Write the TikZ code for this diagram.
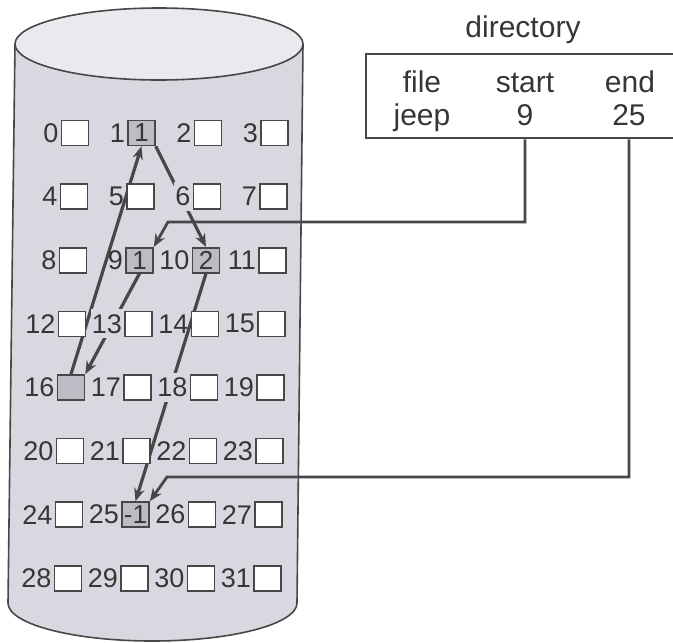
\documentclass[tikz,border=0pt]{standalone}
\usepackage{fontspec}
\setmainfont{Liberation Sans}
\usetikzlibrary{arrows.meta, positioning, calc, backgrounds}
\definecolor{cdisk}{HTML}{D9D8E0}
\definecolor{ctop}{HTML}{E9E9EE}
\definecolor{cused}{HTML}{BDBCC4}
\definecolor{cline}{HTML}{474747}
\definecolor{ctext}{HTML}{363636}

\begin{document}
\begin{tikzpicture}[x=1pt, y=-1pt,
  blk/.style={draw=cline, fill=white, line width=1.6pt, minimum width=27pt, minimum height=25pt, inner sep=0pt},
  used/.style={blk, fill=cused},
  val/.style={text=ctext, inner sep=0pt, font=\fontsize{26}{28}\selectfont},
  num/.style={text=ctext, inner sep=1pt, font=\fontsize{27}{29}\selectfont},
  gap/.style={fill=cdisk, inner ysep=5pt},
  dirtxt/.style={text=ctext, font=\fontsize{30}{32}\selectfont, anchor=base},
  link/.style={draw=cline, line width=3.2pt, -{Stealth[length=13pt, width=10.5pt]}},
  ptr/.style={link, line width=2.8pt}]
  \useasboundingbox (0,0) rectangle (673,643);

  \begin{scope}[on background layer]
    \filldraw[fill=cdisk, draw=cline, line width=1.6pt] (15,44) -- (8,603) arc[start angle=180, end angle=0, x radius=144.5, y radius=38] -- (303,44);
    \filldraw[fill=ctop, draw=cline, line width=1.6pt] (159,44) ellipse[x radius=144, y radius=36];
  \end{scope}

  \foreach \r in {0,...,7}{
    \foreach \c in {0,...,3}{
      \pgfmathtruncatemacro{\n}{4*\r+\c}
      \pgfmathtruncatemacro{\isused}{(\n==1)+(\n==9)+(\n==10)+(\n==16)+(\n==25)}
      \pgfmathtruncatemacro{\iscut}{(\n==6)+(\n==13)+(\n==18)}
      \ifnum\isused=1 \tikzset{cell/.style={used}} \else \tikzset{cell/.style={blk}} \fi
      \ifnum\iscut=1 \tikzset{lbl/.style={num, gap}} \else \tikzset{lbl/.style={num}} \fi
      \node[cell] (b\n) at ({75-\r+66.5*\c}, {133+63.6*\r}) {};
      \node[lbl, anchor=east] (l\n) at ([xshift=-1pt]b\n.west) {\n};
    }
  }
  \foreach \n/\v in {1/1, 9/1, 10/2, 25/-1}
    \node[val] (v\n) at (b\n) {\v};

  \node[dirtxt] (title) at (523,37) {directory};
  \begin{scope}
    \clip (0,0) rectangle (673,643);
    \node[draw=cline, line width=2.4pt, anchor=north west, minimum width=340pt, minimum height=84pt, inner sep=0pt] (dir) at (365,53) {};
  \end{scope}
  \node[dirtxt] (file) at (422,92) {file};
  \node[dirtxt] (jeep) at (422,125) {jeep};
  \node[dirtxt] (start) at (525,92) {start};
  \node[dirtxt] (nine) at (525,125) {9};
  \node[dirtxt] (endcol) at (630,92) {end};
  \node[dirtxt] (last) at (629,125) {25};

  \coordinate (sbend) at (168,222);
  \coordinate (ebend) at (167,477);
  \begin{scope}[on background layer]
    \draw[link] (b16.north) -- (b1.south);
    \draw[link] (b1.south east) -- (b10.north);
    \draw[link] (b9.south) -- (b16.north east);
    \draw[link] (b10.south) -- (b25.north);
    \draw[ptr] (nine |- dir.south) |- (sbend) -- (b9.north east);
    \draw[ptr] (last |- dir.south) |- (ebend) -- (b25.north east);
  \end{scope}
\end{tikzpicture}
\end{document}
